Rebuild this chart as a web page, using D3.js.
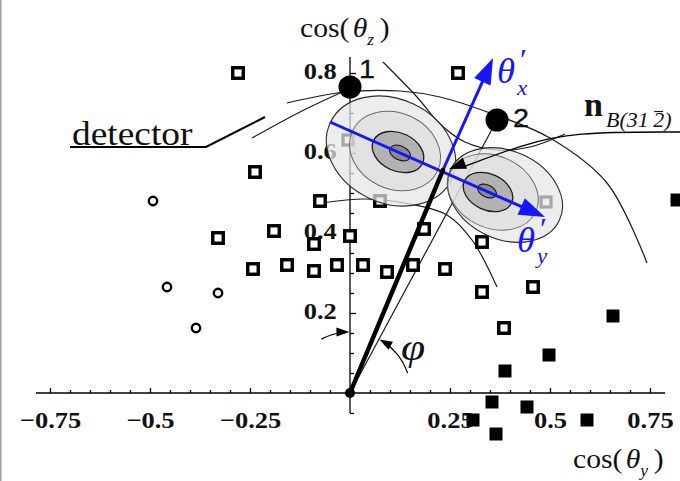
<!DOCTYPE html>
<html>
<head>
<meta charset="utf-8">
<script src="https://cdn.jsdelivr.net/npm/d3@7"></script>
<style>
  html, body { margin: 0; padding: 0; background: #fff; }
  svg { display: block; }
  text { font-family: "Liberation Serif", "Times New Roman", serif; }
</style>
</head>
<body>
<svg id="chart" width="680" height="481"></svg>
<script>
// ---- data: direction cosines (cos θy, cos θz) ----
const xTickLabels = [-0.75, -0.5, -0.25, 0.25, 0.5, 0.75];
const yTickLabels = [0.2, 0.4, 0.6, 0.8];

const openSquares = [
  [-0.28, 0.80], [0.27, 0.80], [-0.2375, 0.5525], [-0.075, 0.48], [0.075, 0.48],
  [-0.33, 0.3875], [-0.19, 0.405], [-0.09, 0.3725], [0.0, 0.3925], [0.185, 0.41],
  [0.33, 0.3775], [-0.2425, 0.31], [-0.1575, 0.32], [-0.09, 0.305], [-0.0325, 0.32],
  [0.0325, 0.32], [0.0925, 0.3025], [0.1575, 0.32], [0.2375, 0.31], [0.33, 0.2525],
  [0.4575, 0.265], [0.385, 0.1625]
];
const shadedSquares = [[-0.005, 0.6325], [0.49, 0.4775]];
const filledSquares = [
  [0.6575, 0.1925], [0.4975, 0.095], [0.3875, 0.055], [0.355, -0.0225], [0.4425, -0.035],
  [0.3075, -0.0675], [0.365, -0.1025], [0.5925, -0.0675], [0.8175, 0.4825]
];
const openCircles = [[-0.4925, 0.48], [-0.4575, 0.265], [-0.33, 0.25], [-0.385, 0.1625]];

const reflections = [
  { name: "1", x: 0.0, y: 0.765 },
  { name: "2", x: 0.3675, y: 0.6825 }
];
const normalB = [0.2325, 0.5575];
const thetaXAxis = [[0.2325, 0.5575], [0.3575, 0.8375]];
const thetaYAxis = [[-0.05, 0.6775], [0.4875, 0.44]];

// intensity contours of the two diffraction spots (centre, semi-axes)
const spot1 = [
  { cx: 0.1025, cy: 0.605, rx: 0.1675, ry: 0.13 },
  { cx: 0.1125, cy: 0.605, rx: 0.1175, ry: 0.095 },
  { cx: 0.12, cy: 0.6025, rx: 0.0675, ry: 0.0475 },
  { cx: 0.125, cy: 0.60, rx: 0.0275, ry: 0.0175 }
];
const spot2 = [
  { cx: 0.3875, cy: 0.495, rx: 0.15, ry: 0.11 },
  { cx: 0.3575, cy: 0.5025, rx: 0.1175, ry: 0.09 },
  { cx: 0.345, cy: 0.5025, rx: 0.065, ry: 0.045 },
  { cx: 0.3425, cy: 0.505, rx: 0.025, ry: 0.015 }
];

// detector boundary / guide curves
const curveA = [[-0.1575, 0.725], [-0.0125, 0.7525], [0.125, 0.755], [0.225, 0.74], [0.35, 0.70],
                [0.5, 0.6375], [0.6425, 0.525], [0.7425, 0.325]];
const curveB = [[0.0825, 0.8275], [0.1675, 0.74], [0.225, 0.6725], [0.2875, 0.6275], [0.3675, 0.6075],
                [0.45, 0.615], [0.5375, 0.6475]];
const curveC = [[-0.245, 0.6375], [-0.125, 0.7025], [-0.025, 0.75]];
const curveD = [[-0.07, 0.475], [0.0375, 0.485], [0.15, 0.4725], [0.2425, 0.445], [0.305, 0.3825],
                [0.3675, 0.265]];
const detectorLeader = [[-0.7, 0.615], [-0.36, 0.615], [-0.2125, 0.69]];
const normalLeader = [[0.825, 0.6525], [0.555, 0.6525], [0.43, 0.62], [0.29, 0.568]];

// ---- scales ----
const x = d3.scaleLinear().domain([0, 0.75]).range([350, 650]);
const y = d3.scaleLinear().domain([0, 0.8]).range([393, 73]);
const px = d => x(d) - x(0);

const svg = d3.select("#chart");
const BLUE = "#1515ff";

svg.append("line").attr("x1", 0.75).attr("x2", 0.75).attr("y1", 0).attr("y2", 481)
  .attr("stroke", "#9c9c9c").attr("stroke-width", 1.5);

// ---- axes ----
const axes = svg.append("g");
const xMinor = d3.range(-15, 16).filter(i => i !== 0).map(i => i * 0.05);
const yMinor = d3.range(-1, 17).filter(i => i !== 0).map(i => i * 0.05);

axes.append("line").attr("x1", x(-0.785)).attr("x2", x(0.7875)).attr("y1", y(0)).attr("y2", y(0))
  .attr("stroke", "#000").attr("stroke-width", 1.4);
axes.append("line").attr("x1", x(0)).attr("x2", x(0)).attr("y1", y(-0.05)).attr("y2", y(0.84))
  .attr("stroke", "#000").attr("stroke-width", 1.3);

const xt = axes.append("g").attr("transform", `translate(0,${y(0)})`)
  .call(d3.axisBottom(x).tickValues(xMinor).tickSizeOuter(0).tickFormat(""));
xt.select(".domain").remove();
xt.selectAll(".tick line").attr("y2", d => Math.abs(d * 4 - Math.round(d * 4)) < 1e-6 ? -5 : -3)
  .attr("stroke-width", 1.3);

const yt = axes.append("g").attr("transform", `translate(${x(0)},0)`)
  .call(d3.axisRight(y).tickValues(yMinor).tickSizeOuter(0).tickFormat(""));
yt.select(".domain").remove();
yt.selectAll(".tick line").attr("x2", d => Math.abs(d * 5 - Math.round(d * 5)) < 1e-6 ? 6 : 4)
  .attr("stroke-width", 1.3);

const fmt = d3.format("~f");
const xl = axes.append("g").attr("transform", `translate(0,${y(0)})`)
  .call(d3.axisBottom(x).tickValues(xTickLabels).tickSize(0).tickPadding(19).tickFormat(fmt));
xl.select(".domain").remove();
xl.selectAll("text").attr("font-family", "Liberation Serif").attr("font-weight", "bold")
  .attr("font-size", 23).attr("fill", "#111").attr("transform", "scale(1.15,1)");

const yl = axes.append("g").attr("transform", `translate(${x(0)},0)`)
  .call(d3.axisLeft(y).tickValues(yTickLabels).tickSize(0).tickPadding(11.5).tickFormat(fmt));
yl.select(".domain").remove();
yl.selectAll("text").attr("font-family", "Liberation Serif").attr("font-weight", "bold")
  .attr("font-size", 23).attr("fill", "#111").attr("dy", "0.22em").attr("transform", "scale(1.15,1)");

// ---- guide curves ----
const line = d3.line().x(d => x(d[0])).y(d => y(d[1]));
const smooth = d3.line().x(d => x(d[0])).y(d => y(d[1])).curve(d3.curveCatmullRom.alpha(0.5));
const curves = svg.append("g").attr("fill", "none").attr("stroke", "#1c1c1c").attr("stroke-width", 1.2);
[curveA, curveB, curveC, curveD].forEach(c => curves.append("path").attr("d", smooth(c)));
curves.append("path").attr("d", line([[0, 0], [reflections[1].x, reflections[1].y]])).attr("stroke-width", 1.2);

// ---- scattered reflections ----
const marks = svg.append("g");
marks.selectAll(".osq").data(openSquares).join("rect")
  .attr("x", d => x(d[0]) - 5.25).attr("y", d => y(d[1]) - 5.25).attr("width", 10.5).attr("height", 10.5)
  .attr("fill", "#fff").attr("stroke", "#000").attr("stroke-width", 3.4);
marks.selectAll(".ssq").data(shadedSquares).join("rect")
  .attr("x", d => x(d[0]) - 5).attr("y", d => y(d[1]) - 5).attr("width", 10).attr("height", 10)
  .attr("fill", "#fff").attr("stroke", "#000").attr("stroke-width", 3.2);
marks.selectAll(".fsq").data(filledSquares).join("rect")
  .attr("x", d => x(d[0]) - 6.5).attr("y", d => y(d[1]) - 6.5).attr("width", 13).attr("height", 13)
  .attr("fill", "#000");
marks.selectAll(".oc").data(openCircles).join("circle")
  .attr("cx", d => x(d[0])).attr("cy", d => y(d[1])).attr("r", 4.2)
  .attr("fill", "#fff").attr("stroke", "#000").attr("stroke-width", 2.4);

// ---- diffraction spots ----
const ringStyle = [
  { fill: "#e6e6e6", op: 0.72, stroke: "#2a2a2a", sw: 1.1 },
  { fill: "#d9d9d9", op: 0.55, stroke: "#6a6a6a", sw: 1.0 },
  { fill: "#b2b2b2", op: 1, stroke: "#1a1a1a", sw: 1.3 },
  { fill: "#8a8a8a", op: 1, stroke: "#1a1a1a", sw: 1.1 }
];
[spot1, spot2].forEach(spot => {
  const g = svg.append("g");
  spot.forEach((r, i) => {
    const s = ringStyle[i];
    g.append("ellipse")
      .attr("cx", x(r.cx)).attr("cy", y(r.cy)).attr("rx", px(r.rx)).attr("ry", px(r.ry))
      .attr("transform", `rotate(25,${x(r.cx)},${y(r.cy)})`)
      .attr("fill", s.fill).attr("fill-opacity", s.op)
      .attr("stroke", s.stroke).attr("stroke-width", s.sw);
  });
});

// ---- arrows ----
function arrowHead(g, tx, ty, dx, dy, len, half, color) {
  const n = Math.hypot(dx, dy); const ux = dx / n, uy = dy / n;
  const bx = tx - ux * len, by = ty - uy * len;
  g.append("path")
    .attr("d", `M${tx},${ty}L${bx - uy * half},${by + ux * half}L${bx + uy * half},${by - ux * half}Z`)
    .attr("fill", color);
}

const blue = svg.append("g");
[thetaYAxis, thetaXAxis].forEach(a => {
  const x0 = x(a[0][0]), y0 = y(a[0][1]), x1 = x(a[1][0]), y1 = y(a[1][1]);
  const n = Math.hypot(x1 - x0, y1 - y0);
  blue.append("line").attr("x1", x0).attr("y1", y0)
    .attr("x2", x1 - (x1 - x0) / n * 16).attr("y2", y1 - (y1 - y0) / n * 16)
    .attr("stroke", BLUE).attr("stroke-width", 3);
  arrowHead(blue, x1, y1, x1 - x0, y1 - y0, 26, 9, BLUE);
});

const vec = svg.append("g");
vec.append("line").attr("x1", x(0)).attr("y1", y(0)).attr("x2", x(normalB[0])).attr("y2", y(normalB[1]))
  .attr("stroke", "#000").attr("stroke-width", 4.5).attr("stroke-linecap", "round");
vec.append("circle").attr("cx", x(0)).attr("cy", y(0)).attr("r", 5).attr("fill", "#000");

// angle φ between the z axis and the direction to reflection 2
const R = px(0.1525);
const cx0 = x(0), cy0 = y(0);
const rad = a => a * Math.PI / 180;
const arcs = svg.append("g").attr("fill", "none").attr("stroke", "#000").attr("stroke-width", 1.2);
let p = d3.path(); p.arc(cx0, cy0, R, rad(-118), rad(-95), false);
arcs.append("path").attr("d", p.toString());
p = d3.path(); p.arc(cx0, cy0, R, rad(-19), rad(-57), true);
arcs.append("path").attr("d", p.toString());
const phi2 = Math.atan2(x(reflections[1].x) - cx0, cy0 - y(reflections[1].y)) * 180 / Math.PI;
const tipL = rad(-0.5), tipR = rad(phi2 + 0.5);
arrowHead(svg, cx0 + R * Math.sin(tipL), cy0 - R * Math.cos(tipL), Math.cos(tipL), Math.sin(tipL), 13, 4.5, "#000");
arrowHead(svg, cx0 + R * Math.sin(tipR), cy0 - R * Math.cos(tipR), -Math.cos(tipR), -Math.sin(tipR), 13, 4.5, "#000");

// ---- reflections 1 and 2 ----
const refl = svg.append("g");
refl.selectAll("circle").data(reflections).join("circle")
  .attr("cx", d => x(d.x)).attr("cy", d => y(d.y)).attr("r", 11.5).attr("fill", "#000");
refl.selectAll("g.lbl").data(reflections).join("g").attr("class", "lbl")
  .attr("transform", d => `translate(${x(d.x) + (d.name === "1" ? 9 : 16)},${y(d.y) + (d.name === "1" ? -9 : 7)}) scale(1.15,1)`)
  .append("text")
  .style("font-family", "'Liberation Sans', Arial, sans-serif").style("font-size", "25px")
  .attr("fill", "#111").attr("stroke", "#111").attr("stroke-width", 0.3)
  .text(d => d.name);

// ---- leaders ----
const lead = svg.append("g").attr("fill", "none").attr("stroke", "#000");
lead.append("path").attr("d", line(detectorLeader)).attr("stroke-width", 2);
const nl = d3.line().x(d => x(d[0])).y(d => y(d[1])).curve(d3.curveBasis);
lead.append("path").attr("d", nl(normalLeader)).attr("stroke-width", 1.3);
{
  const a = normalLeader[normalLeader.length - 2], b = normalLeader[normalLeader.length - 1];
  const tx = x(normalB[0]) + 6, ty = y(normalB[1]) - 1;
  arrowHead(svg, tx, ty, x(b[0]) - x(a[0]) - 10, y(b[1]) - y(a[1]) + 4, 17, 6, "#000");
}

// ---- lettering ----
function place(px_, py_, sx) {
  return svg.append("g").attr("transform", `translate(${px_},${py_}) scale(${sx},1)`);
}

// axis titles
function cosTitle(g, sub) {
  const t = g.append("text").attr("font-size", 27).attr("fill", "#111");
  t.append("tspan").text("cos(");
  t.append("tspan").attr("dx", 3).attr("font-style", "italic").text("θ");
  t.append("tspan").attr("font-style", "italic").attr("font-size", 16).attr("dy", 8).text(sub);
  t.append("tspan").attr("dx", 5).attr("dy", -8).text(")");
}
cosTitle(place(300, 37, 1.1), "z");
cosTitle(place(573, 468, 1.1), "y");

// detector
place(72, 145, 1.1).append("text").attr("font-size", 34).attr("fill", "#111").text("detector");

// φ
place(401, 360, 1.15).append("text").style("font-size", "38px").attr("font-style", "italic")
  .attr("fill", "#111").text("φ");

// rotated frame labels
function primeLabel(tx, ty, sub, subDy) {
  const g = place(tx, ty, 1.05);
  g.append("text").attr("font-size", 35).attr("font-style", "italic").attr("fill", BLUE).text("θ");
  g.append("text").attr("x", 22).attr("y", -14).attr("font-size", 30).attr("fill", BLUE).text("′");
  g.append("text").attr("x", 19).attr("y", subDy).attr("font-size", 22).attr("font-style", "italic")
    .attr("fill", BLUE).text(sub);
}
primeLabel(497, 83, "x", 12);
primeLabel(517, 252, "y", 11);

// plane normal label
svg.append("text").attr("x", 584).attr("y", 116).attr("font-size", 34).attr("font-weight", "bold")
  .attr("fill", "#111").text("n");
{
  const g = place(606, 127, 1.1);
  const t = g.append("text").attr("font-size", 20).attr("font-style", "italic").attr("fill", "#111")
    .text("B(31\u20092)");
  const node = t.node();
  const s = node.getStartPositionOfChar(5), e = node.getEndPositionOfChar(5);
  g.append("line").attr("x1", s.x + 1).attr("x2", e.x - 1).attr("y1", -15.5).attr("y2", -15.5)
    .attr("stroke", "#111").attr("stroke-width", 1.2);
}
</script>
</body>
</html>
